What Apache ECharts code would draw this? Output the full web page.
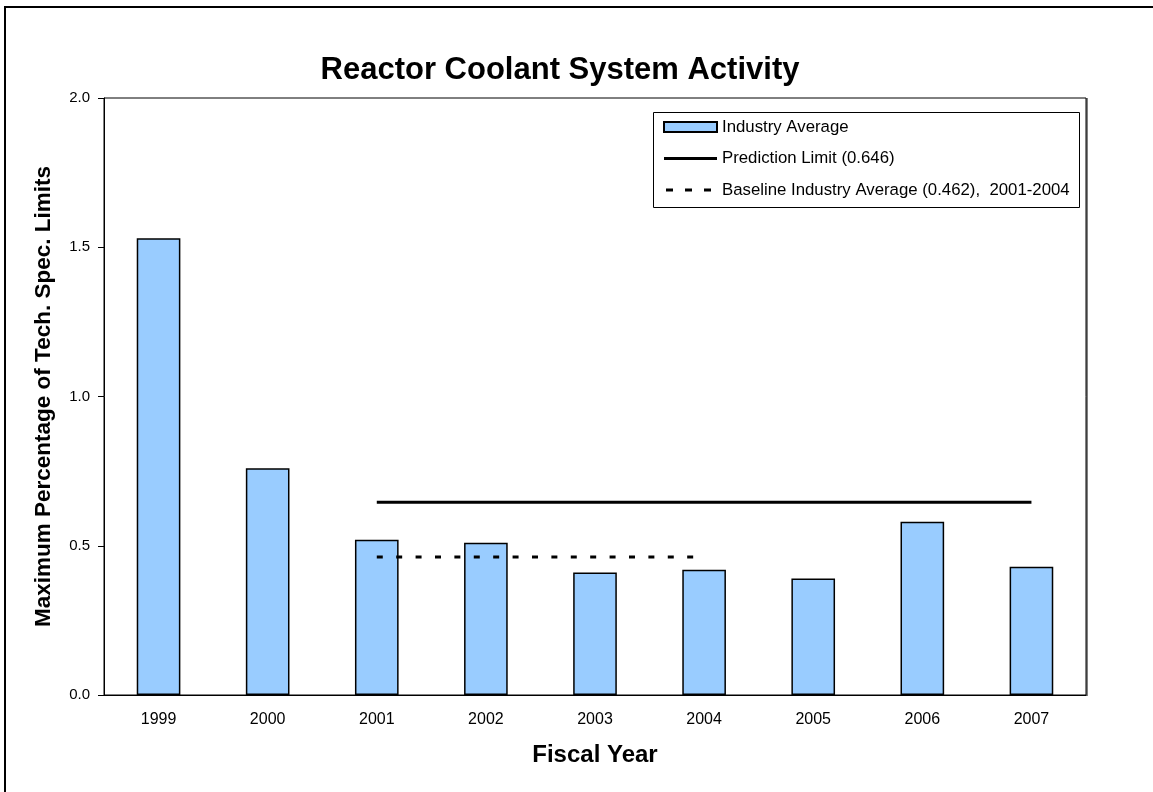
<!DOCTYPE html>
<html>
<head>
<meta charset="utf-8">
<script src="https://cdn.jsdelivr.net/npm/echarts@6/dist/echarts.min.js"></script>
<style>
html,body{margin:0;padding:0;background:#fff;}
#c{width:1153px;height:792px;}
</style>
</head>
<body>
<div id="c"></div>
<script>
const years = ['1999','2000','2001','2002','2003','2004','2005','2006','2007'];
const industryAverage = [1.53, 0.76, 0.52, 0.51, 0.41, 0.42, 0.39, 0.58, 0.43];
const predictionLimit = ['-', '-', 0.646, 0.646, 0.646, 0.646, 0.646, 0.646, 0.646];
const baselineAverage = ['-', '-', 0.462, 0.462, 0.462, 0.462, '-', '-', '-'];
const yTicks = [0.0, 0.5, 1.0, 1.5, 2.0];

const FONT = 'Liberation Sans, Arial, sans-serif';
const chart = echarts.init(document.getElementById('c'), null, {renderer: 'canvas'});
chart.setOption({
  animation: false,
  backgroundColor: '#fff',
  title: {
    text: 'Reactor Coolant System Activity',
    left: 555, top: 50, textAlign: 'center',
    textStyle: {fontFamily: FONT, fontSize: 31, fontWeight: 'bold', color: '#000'}
  },
  graphic: [
    {type: 'rect', shape: {x: 5, y: 7, width: 1170, height: 810}, style: {fill: 'none', stroke: '#000', lineWidth: 2}, z: 100},
    {type: 'rect', shape: {x: 653.5, y: 112.5, width: 426, height: 95}, style: {fill: '#fff', stroke: '#000', lineWidth: 1}, z: 1},
    {type: 'line', shape: {x1: 1087, y1: 98, x2: 1087, y2: 696}, style: {stroke: '#000', lineWidth: 1}, z: 50}
  ],
  legend: {
    orient: 'vertical', left: 663, top: 117,
    itemWidth: 53, itemHeight: 10, itemGap: 11.5, padding: 0, z: 5,
    textStyle: {fontFamily: FONT, fontSize: 16.8, lineHeight: 20, color: '#000', padding: [0,0,0,0]},
    data: [
      {name: 'Industry Average', icon: 'rect'},
      {name: 'Prediction Limit (0.646)', icon: 'path://M0,0H53V3H0Z'},
      {name: 'Baseline Industry Average (0.462),  2001-2004', icon: 'path://M2,0h7v3h-7z M21,0h7v3h-7z M40,0h7v3h-7z M0,1.45h0.05v0.05h-0.05z M52.95,1.45h0.05v0.05h-0.05z'}
    ]
  },
  grid: {left: 104, right: 67, top: 98, bottom: 97, show: true, borderColor: '#000', borderWidth: 1, containLabel: false},
  xAxis: {
    type: 'category', data: years,
    name: 'Fiscal Year', nameLocation: 'middle', nameGap: 48,
    nameTextStyle: {fontFamily: FONT, fontSize: 24, fontWeight: 'bold', color: '#000'},
    axisLine: {lineStyle: {color: '#000', width: 1}},
    axisTick: {show: false},
    axisLabel: {fontFamily: FONT, fontSize: 16, color: '#000', margin: 17}
  },
  yAxis: {
    type: 'value', min: yTicks[0], max: yTicks[yTicks.length-1], interval: 0.5,
    name: 'Maximum Percentage of Tech. Spec. Limits', nameLocation: 'middle', nameGap: 49,
    nameTextStyle: {fontFamily: FONT, fontSize: 22.5, fontWeight: 'bold', color: '#000'},
    axisLine: {show: true, lineStyle: {color: '#000', width: 1}},
    axisTick: {show: true, length: 6, lineStyle: {color: '#000'}},
    splitLine: {show: false},
    axisLabel: {fontFamily: FONT, fontSize: 15, color: '#000', margin: 14, formatter: v => v.toFixed(1)}
  },
  series: [
    {
      name: 'Industry Average', type: 'bar', data: industryAverage,
      barCategoryGap: '60%',
      itemStyle: {color: '#99ccff', borderColor: '#000', borderWidth: 1.5}
    },
    {
      name: 'Prediction Limit (0.646)', type: 'line', data: predictionLimit,
      symbol: 'none', lineStyle: {color: '#000', width: 3}, itemStyle: {color: '#000'}
    },
    {
      name: 'Baseline Industry Average (0.462),  2001-2004', type: 'line', data: baselineAverage,
      symbol: 'none', lineStyle: {color: '#000', width: 3, type: [6, 13.4], cap: 'butt'}, itemStyle: {color: '#000'}
    }
  ]
});
</script>
</body>
</html>
